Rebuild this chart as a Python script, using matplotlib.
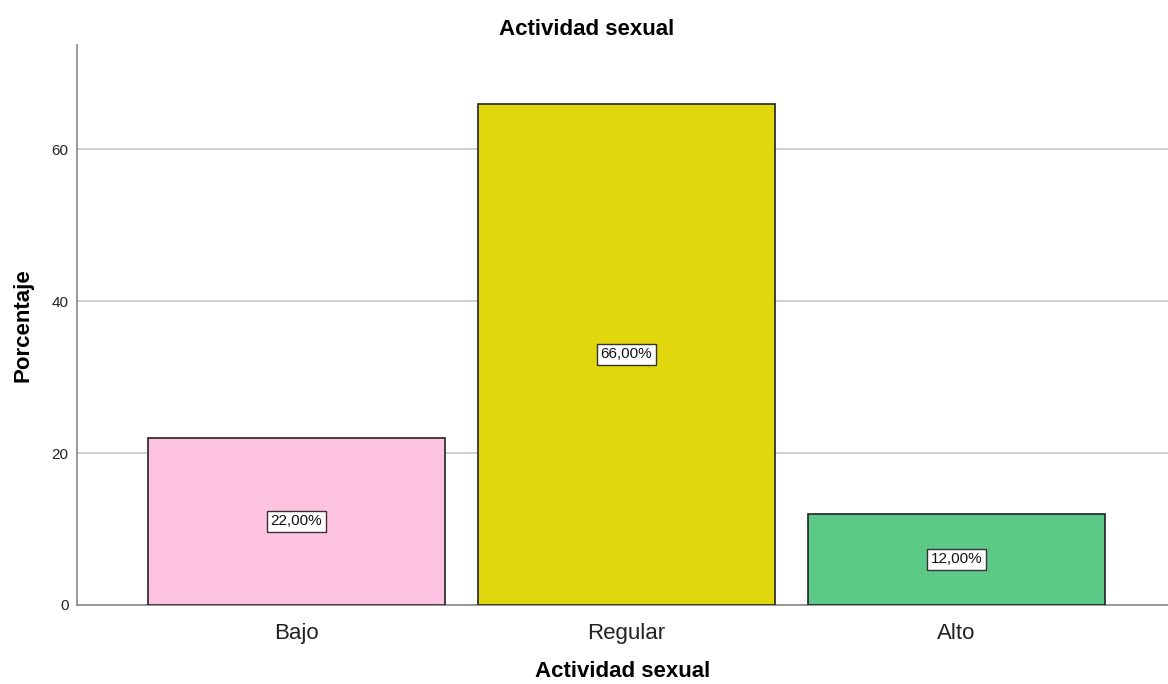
import matplotlib
matplotlib.use("Agg")
import matplotlib.pyplot as plt

categories = ["Bajo", "Regular", "Alto"]
percentages = [22.0, 66.0, 12.0]
bar_colors = ["#FFC2E1", "#E2D60D", "#5DC986"]
yticks = [0, 20, 40, 60]

plt.rcParams['font.family'] = ['Liberation Sans', 'DejaVu Sans']

fig = plt.figure(figsize=(11.68, 6.84), dpi=100)
ax = fig.add_axes([77 / 1168, 1 - 605 / 684, 1 - 77 / 1168, (605 - 45) / 684])

x = list(range(len(categories)))
bars = ax.bar(x, percentages, width=0.9, color=bar_colors,
              edgecolor="#222222", linewidth=1.2, zorder=3)

for xi, val in zip(x, percentages):
    label = f"{val:.2f}".replace(".", ",") + "%"
    ax.text(xi, val / 2, label, ha="center", va="center", fontsize=11,
            color="#111111", zorder=4,
            bbox=dict(boxstyle="square,pad=0.22", facecolor="white",
                      edgecolor="#333333", linewidth=1.0))

ax.set_xlim(-0.665, 2.641)
ax.set_ylim(0, 73.7)
ax.set_yticks(yticks)
ax.set_xticks(x)
ax.set_xticklabels(categories, fontsize=16, color="#222222")
ax.tick_params(axis="x", length=0, pad=13)
ax.tick_params(axis="y", length=0, labelsize=11, pad=6, labelcolor="#222222")
ax.yaxis.grid(True, color="#C8C8C8", linewidth=1.2, zorder=0)

for side in ["top", "right"]:
    ax.spines[side].set_visible(False)
ax.spines["left"].set_color("#888888")
ax.spines["left"].set_linewidth(1.2)
ax.spines["bottom"].set_color("#888888")
ax.spines["bottom"].set_linewidth(1.2)

fig.text(587 / 1168, 1 - 35 / 684, "Actividad sexual", fontsize=16,
         fontweight="bold", ha="center", va="baseline")
ax.set_xlabel("Actividad sexual", fontsize=16, fontweight="bold", labelpad=12)
ax.set_ylabel("Porcentaje", fontsize=16, fontweight="bold", labelpad=13)

fig.savefig("out.png", dpi=100)
